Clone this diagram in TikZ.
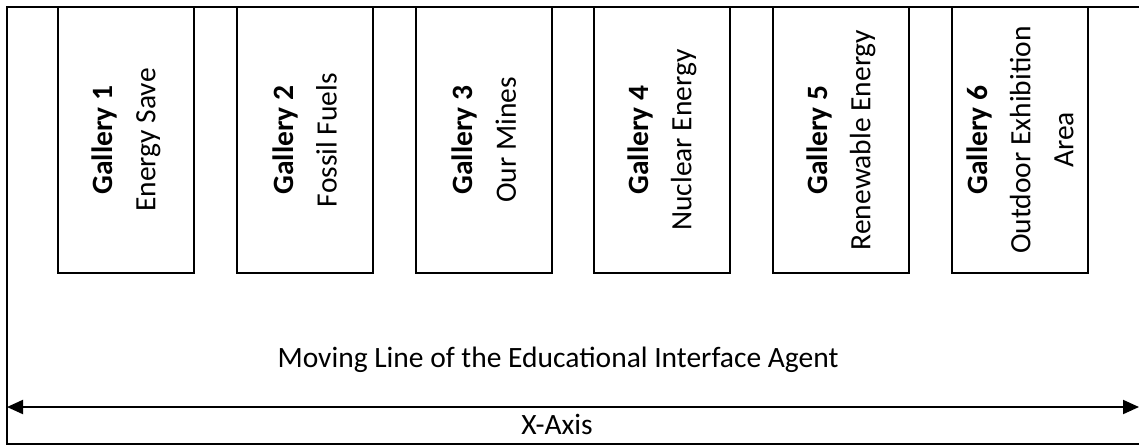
\documentclass[tikz,border=0pt]{standalone}
\usepackage{fontspec}
\setmainfont{Carlito}
\usetikzlibrary{arrows.meta}

\tikzset{
  gallery/.style={draw, thick, rotate=90, minimum width=133pt, minimum height=68pt,
    inner sep=0pt, align=center, font=\fontsize{14.75}{21.5}\selectfont},
  caption/.style={inner sep=0pt, anchor=base, font=\fontsize{14.75}{18}\selectfont}
}

\begin{document}
\begin{tikzpicture}[x = .5pt, y = -.5pt]
        \useasboundingbox (0,0) rectangle (1139,446);
        \clip (0,0) rectangle (1139,446);
        \draw[thick] (7,7) rectangle (1160,444);
        \node[gallery] (g1) at (126,140) {\textbf{Gallery 1}\\Energy Save};
        \node[gallery] (g2) at (305,140) {\textbf{Gallery 2}\\Fossil Fuels};
        \node[gallery] (g3) at (484,140) {\textbf{Gallery 3}\\Our Mines};
        \node[gallery] (g4) at (662,140) {\textbf{Gallery 4}\\Nuclear Energy};
        \node[gallery] (g5) at (841,140) {\textbf{Gallery 5}\\Renewable Energy};
        \node[gallery] (g6) at (1020,140) {\textbf{Gallery 6}\\Outdoor Exhibition\\Area};
        \node[caption] (moving) at (558,367) {Moving Line of the Educational Interface Agent};
        \coordinate (xleft) at (7,407);
        \coordinate (xright) at (1139,407);
        \draw[line width=1pt, {Triangle[length=8pt, width=7pt]}-{Triangle[length=8pt, width=7pt]}] (xleft) -- (xright);
        \node[caption] (xaxis) at (557,434) {X-Axis};
      \end{tikzpicture}
\end{document}
